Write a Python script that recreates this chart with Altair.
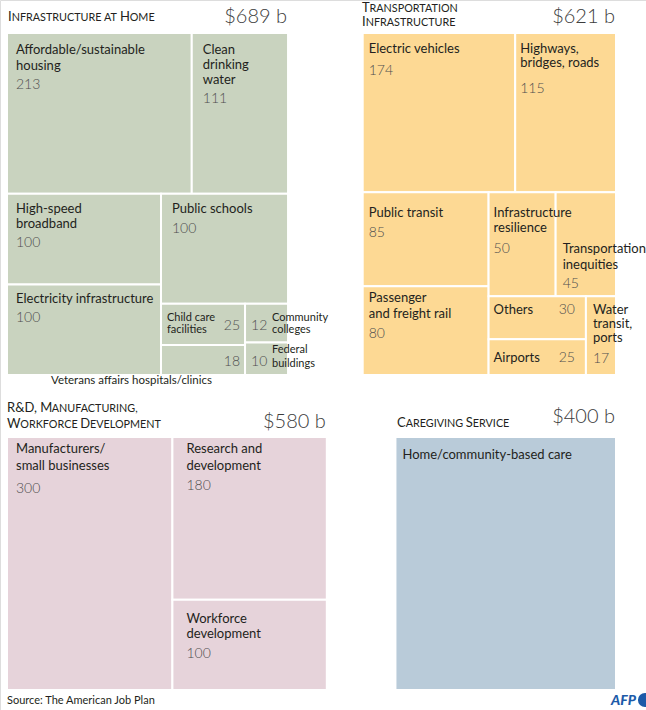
import altair as alt
import pandas as pd

FONT = "Lato"

# ---------------- data ----------------
sector_totals_fmt = "${} b"
sector_colors = ["#c9d3bf", "#fdd994", "#e6d3da", "#b9cbd9"]

home_items = ["housing", "water", "broadband", "electricity", "schools",
              "childcare", "veterans", "colleges", "federal"]
home_labels = [["Affordable/sustainable", "housing"], ["Clean", "drinking", "water"],
               ["High-speed", "broadband"], ["Electricity infrastructure"], ["Public schools"],
               ["Child care", "facilities"], ["Veterans affairs hospitals/clinics"],
               ["Community", "colleges"], ["Federal", "buildings"]]
home_values = [213, 111, 100, 100, 100, 25, 18, 12, 10]

transport_items = ["ev", "highways", "transit", "rail", "resilience", "inequities",
                   "others", "airports", "ports"]
transport_labels = [["Electric vehicles"], ["Highways,", "bridges, roads"], ["Public transit"],
                    ["Passenger", "and freight rail"], ["Infrastructure", "resilience"],
                    ["Transportation", "inequities"], ["Others"], ["Airports"],
                    ["Water", "transit,", "ports"]]
transport_values = [174, 115, 85, 80, 50, 45, 30, 25, 17]

rd_items = ["manufacturers", "research", "workforce"]
rd_labels = [["Manufacturers/", "small businesses"], ["Research and", "development"],
             ["Workforce", "development"]]
rd_values = [300, 180, 100]

care_items = ["care"]
care_labels = [["Home/community-based care"]]
care_values = [400]

# titles, written as (text, is_capital) segments per line to imitate small caps
title_lines = [
    [("I", True), ("NFRASTRUCTURE AT ", False), ("H", True), ("OME", False)],
    [("T", True), ("RANSPORTATION", False)],
    [("I", True), ("NFRASTRUCTURE", False)],
    [("R&D, M", True), ("ANUFACTURING,", False)],
    [("W", True), ("ORKFORCE ", False), ("D", True), ("EVELOPMENT", False)],
    [("C", True), ("AREGIVING ", False), ("S", True), ("ERVICE", False)],
]
source_text = "Source: The American Job Plan"

# ---------------- treemap structure (nesting only) ----------------
home_tree = ("v", [("h", ["housing", "water"]),
                   ("h", [("v", ["broadband", "electricity"]),
                          ("v", ["schools", ("h", [("v", ["childcare", "veterans"]),
                                                   ("v", ["colleges", "federal"])])])])])
transport_tree = ("v", [("h", ["ev", "highways"]),
                        ("h", [("v", ["transit", "rail"]),
                               ("v", [("h", ["resilience", "inequities"]),
                                      ("h", [("v", ["others", "airports"]), "ports"])])])])
rd_tree = ("h", ["manufacturers", ("v", ["research", "workforce"])])
care_tree = "care"

# ---------------- layout ----------------
AREA_K = 139.5  # px^2 per $bn
TOP_Y, TOP_H = 33, 342
BOT_Y, BOT_H = 437, 253
LEFT_X, RIGHT_X = 7, 616

panels = [
    dict(items=home_items, labels=home_labels, values=home_values, tree=home_tree,
         color=sector_colors[0], row="top", side="left", total_dy=-10),
    dict(items=transport_items, labels=transport_labels, values=transport_values, tree=transport_tree,
         color=sector_colors[1], row="top", side="right", total_dy=-10),
    dict(items=rd_items, labels=rd_labels, values=rd_values, tree=rd_tree,
         color=sector_colors[2], row="bot", side="left", total_dy=-9),
    dict(items=care_items, labels=care_labels, values=care_values, tree=care_tree,
         color=sector_colors[3], row="bot", side="right", total_dy=-14),
]
# title line anchors (left x, baseline)
title_pos = [(8, 21), (362, 11.5), (362, 26), (7, 412), (7, 428), (397, 427)]
BIG, SMALL = 13, 10.8

D = dict(dx=9, dy=20, lh=16, ngap=19, size=13, num="below")
styles = {
    "housing": dict(dx=9, dy=21, lh=16, ngap=19),
    "water": dict(dx=11, dy=21, lh=15, ngap=19),
    "broadband": dict(dx=9, dy=19, lh=15, ngap=19),
    "electricity": dict(dx=9, dy=19, ngap=19),
    "schools": dict(dx=11, dy=19, ngap=20),
    "childcare": dict(dx=6, dy=17, lh=12, size=11, num=("r", 5, 26)),
    "colleges": dict(dx=27, dy=17, lh=12, size=11, num=("l", 6, 26)),
    "veterans": dict(below=True, dx=51, dyb=9, size=11.5, num=("r", 5, 21)),
    "federal": dict(dx=27, dy=10, lh=14, size=11, num=("l", 6, 23)),
    "ev": dict(dx=6, dy=20, ngap=22),
    "highways": dict(dx=5, dy=20, lh=14, ngap=26),
    "transit": dict(dx=6, dy=25, ngap=20),
    "rail": dict(dx=6, dy=16, ngap=20),
    "resilience": dict(dx=5, dy=25, lh=15, ngap=21),
    "inequities": dict(dx=7, dy=61, lh=16, ngap=19),
    "others": dict(dx=5, dy=18, num=("r", 11, 18)),
    "airports": dict(dx=5, dy=23, num=("r", 11, 23)),
    "ports": dict(dx=7, dy=18, lh=14, ngap=21),
    "manufacturers": dict(dx=9, dy=16, lh=17, ngap=23),
    "research": dict(dx=14, dy=16, lh=17, ngap=20),
    "workforce": dict(dx=14, dy=23, lh=15, ngap=20),
    "care": dict(dx=7, dy=22, num=None),
}

# approximate Lato capital advance widths (em)
CW = dict(A=.68, B=.64, C=.67, D=.74, E=.56, F=.55, G=.72, H=.75, I=.28, J=.40, K=.67, L=.50,
          M=.90, N=.75, O=.79, P=.60, Q=.79, R=.63, S=.53, T=.58, U=.72, V=.68, W=1.02, X=.65,
          Y=.62, Z=.62)
CW.update({" ": .27, ",": .20, "&": .70})


def text_w(s, size):
    return sum(CW.get(c, .6) for c in s) * size


def total(node, vals):
    if isinstance(node, str):
        return vals[node]
    return sum(total(c, vals) for c in node[1])


def layout(node, vals, x0, y0, x1, y1, out):
    if isinstance(node, str):
        out[node] = (x0, y0, x1, y1)
        return
    kind, children = node
    ts = [total(c, vals) for c in children]
    s = sum(ts)
    pos = x0 if kind == "h" else y0
    for c, t in zip(children, ts):
        if kind == "h":
            w = (x1 - x0) * t / s
            layout(c, vals, pos, y0, pos + w, y1, out)
        else:
            w = (y1 - y0) * t / s
            layout(c, vals, x0, pos, x1, pos + w, out)
        pos += w


rect_rows, text_rows = [], []
for p in panels:
    vals = dict(zip(p["items"], p["values"]))
    tot = sum(p["values"])
    y0, h = (TOP_Y, TOP_H) if p["row"] == "top" else (BOT_Y, BOT_H)
    w = tot * AREA_K / h
    x0 = LEFT_X if p["side"] == "left" else RIGHT_X - w
    cells = {}
    layout(p["tree"], vals, x0, y0, x0 + w, y0 + h, cells)
    text_rows.append(dict(x=x0 + w - 1, y=y0 + p["total_dy"], text=sector_totals_fmt.format(tot),
                          size=20, kind="total", align="right"))
    for name, lab in zip(p["items"], p["labels"]):
        cx0, cy0, cx1, cy1 = cells[name]
        rect_rows.append(dict(x=cx0, x2=cx1, y=cy0, y2=cy1, color=p["color"], name=name))
        st = dict(D)
        st.update(styles.get(name, {}))
        if st.get("below"):
            text_rows.append(dict(x=cx0 + st["dx"], y=cy1 + st["dyb"], text=lab[0],
                                  size=st["size"], kind="label", align="right"))
        else:
            for i, line in enumerate(lab):
                text_rows.append(dict(x=cx0 + st["dx"], y=cy0 + st["dy"] + i * st["lh"], text=line,
                                      size=st["size"], kind="label", align="left"))
        num = st["num"]
        v = str(vals[name])
        if num == "below":
            ny = cy0 + st["dy"] + (len(lab) - 1) * st["lh"] + st["ngap"]
            text_rows.append(dict(x=cx0 + st["dx"], y=ny, text=v, size=14, kind="num", align="left"))
        elif num is not None:
            mode, ox, oy = num
            if mode == "r":
                text_rows.append(dict(x=cx1 - ox, y=cy0 + oy, text=v, size=14, kind="num", align="right"))
            else:
                text_rows.append(dict(x=cx0 + ox, y=cy0 + oy, text=v, size=14, kind="num", align="left"))

for segs, (tx, ty) in zip(title_lines, title_pos):
    x = tx
    for t, big in segs:
        sz = BIG if big else SMALL
        text_rows.append(dict(x=x, y=ty, text=t, size=sz, kind="label", align="left"))
        x += text_w(t, sz)

text_rows.append(dict(x=7, y=704, text=source_text, size=11, kind="source", align="left"))
text_rows.append(dict(x=636, y=705, text="AFP", size=14, kind="afp", align="right"))

rects = pd.DataFrame(rect_rows)
texts = pd.DataFrame(text_rows)

W, H = 646, 710
xs = alt.Scale(domain=[0, W], nice=False, zero=False)
ys = alt.Scale(domain=[0, H], nice=False, zero=False, reverse=True)
X = lambda f: alt.X(f, type="quantitative", scale=xs, axis=None)
Y = lambda f: alt.Y(f, type="quantitative", scale=ys, axis=None)

rect_layer = alt.Chart(rects).mark_rect(stroke="white", strokeWidth=2).encode(
    x=X("x"), x2="x2", y=Y("y"), y2="y2", color=alt.Color("color:N", scale=None)
)

kind_style = {
    "label": dict(color="#231f20", fontWeight="normal"),
    "num": dict(color="#4f4f4f", fontWeight=300),
    "total": dict(color="#3c3c3c", fontWeight=300),
    "source": dict(color="#231f20", fontWeight="normal"),
    "afp": dict(color="#1d5aa8", fontWeight=900, fontStyle="italic"),
}

layers = [rect_layer]
for (kind, align), grp in texts.groupby(["kind", "align"]):
    layers.append(
        alt.Chart(grp).mark_text(font=FONT, align=align, baseline="alphabetic", **kind_style[kind]).encode(
            x=X("x"), y=Y("y"), text="text:N", size=alt.Size("size:Q", scale=None)
        )
    )

logo = pd.DataFrame([dict(x=645, y=700)])
layers.append(alt.Chart(logo).mark_circle(size=200, color="#1d5aa8", opacity=1).encode(x=X("x"), y=Y("y")))

chart = alt.layer(*layers).properties(
    width=W, height=H, padding=0, autosize=alt.AutoSizeParams(type="none")
).configure_view(stroke=None).configure(background="white")

chart.save("out.html", embed_options={"renderer": "svg", "actions": False})
